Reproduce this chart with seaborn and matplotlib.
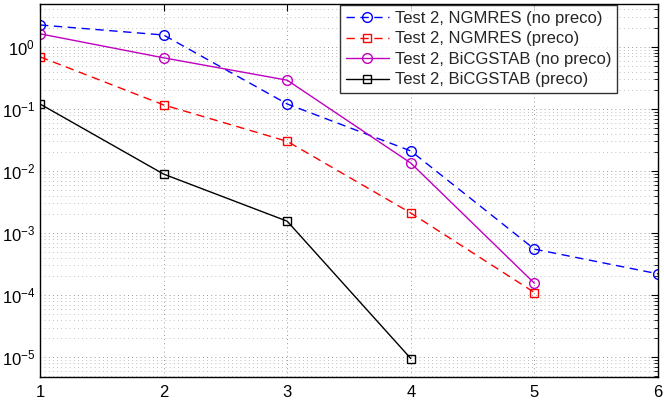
import matplotlib
matplotlib.use("Agg")
import matplotlib.pyplot as plt
import seaborn as sns
import pandas as pd
import numpy as np
from matplotlib.ticker import LogLocator, NullFormatter, FixedLocator

sns.set_style("white")
plt.rcParams['font.family'] = ['Liberation Sans', 'DejaVu Sans']
plt.rcParams['mathtext.fontset'] = 'custom'
plt.rcParams['mathtext.rm'] = 'Liberation Sans'

labels = ["Test 2, NGMRES (no preco)", "Test 2, NGMRES (preco)",
          "Test 2, BiCGSTAB (no preco)", "Test 2, BiCGSTAB (preco)"]
x_ngmres_np = [1, 2, 3, 4, 5, 6]
y_ngmres_np = [2.25, 1.55, 0.12, 0.021, 5.5e-4, 2.2e-4]
x_ngmres_p = [1, 2, 3, 4, 5]
y_ngmres_p = [0.69, 0.116, 0.030, 2.1e-3, 1.1e-4]
x_bicg_np = [1, 2, 3, 4, 5]
y_bicg_np = [1.62, 0.665, 0.29, 0.0134, 1.55e-4]
x_bicg_p = [1, 2, 3, 4]
y_bicg_p = [0.12, 0.0089, 1.55e-3, 9.5e-6]

series = [
    (x_ngmres_np, y_ngmres_np, labels[0], "#0000ff", "o", (0, (6, 4))),
    (x_ngmres_p, y_ngmres_p, labels[1], "#ff0000", "s", (0, (6, 4))),
    (x_bicg_np, y_bicg_np, labels[2], "#bf00bf", "o", "-"),
    (x_bicg_p, y_bicg_p, labels[3], "#000000", "s", "-"),
]

fig = plt.figure(figsize=(6.64, 4.05), dpi=100)
L, R, T, B = 40, 658, 4, 377
ax = fig.add_axes([L / 664, 1 - B / 405, (R - L) / 664, (B - T) / 405])

for xs, ys, lab, col, mk, ls in series:
    df = pd.DataFrame({"x": xs, "y": ys})
    sns.lineplot(data=df, x="x", y="y", ax=ax, color=col, marker=mk,
                 linestyle=ls, linewidth=1.0, markersize=7 if mk == "o" else 6,
                 markerfacecolor="none", markeredgecolor=col, markeredgewidth=1.0,
                 label=lab)

ax.set_yscale("log")
ax.set_xlim(1, 6)
ax.set_ylim(10 ** -5.32, 10 ** 0.69)
ax.set_xlabel("")
ax.set_ylabel("")
ax.xaxis.label.set_visible(False)
ax.yaxis.label.set_visible(False)
ax.xaxis.offsetText.set_visible(False)
ax.yaxis.offsetText.set_visible(False)
ax.xaxis.set_major_locator(FixedLocator([1, 2, 3, 4, 5, 6]))
ax.yaxis.set_major_locator(LogLocator(base=10, numticks=20))
ax.yaxis.set_minor_locator(LogLocator(base=10, subs=np.arange(2, 10), numticks=20))
ax.yaxis.set_minor_formatter(NullFormatter())

ax.grid(True, which="major", axis="both", color="#777777", linestyle=(0, (1, 4)), linewidth=0.6)
ax.grid(True, which="minor", axis="y", color="#aaaaaa", linestyle=(0, (1, 4)), linewidth=0.6)

ax.tick_params(axis="both", which="both", direction="in", top=True, right=True,
               labelsize=12, colors="black")
ax.tick_params(which="major", length=5)
ax.tick_params(which="minor", length=3)
ax.tick_params(axis="x", pad=6)
for s in ax.spines.values():
    s.set_color("black")
    s.set_linewidth(1.0)

leg_right = (617 - L) / (R - L)
leg = ax.legend(loc="upper right", bbox_to_anchor=(leg_right, 1 - 1 / (B - T)),
                fontsize=12, frameon=True, fancybox=False, handlelength=2.6,
                borderpad=0.35, labelspacing=0.33, handletextpad=0.35, borderaxespad=0.0)
leg.get_frame().set_edgecolor("black")
leg.get_frame().set_linewidth(1.0)

fig.savefig("out.png", dpi=100)
